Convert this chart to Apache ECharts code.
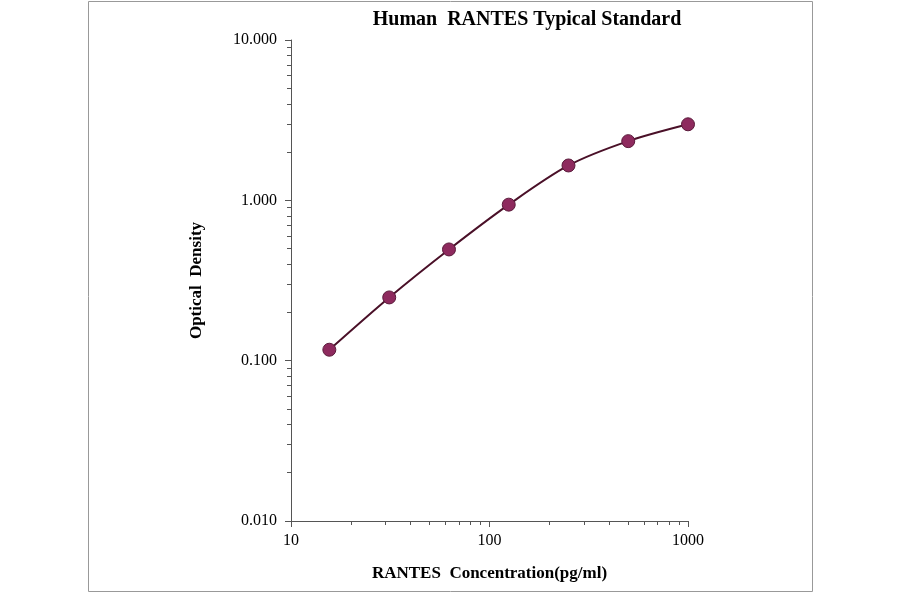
<!DOCTYPE html>
<html><head><meta charset="utf-8">
<script src="https://cdn.jsdelivr.net/npm/echarts@6/dist/echarts.min.js"></script>
<style>html,body{margin:0;padding:0;background:#fff}#c{width:900px;height:594px}</style>
</head><body><div id="c"></div>
<script>
const concentrations = [15.6, 31.25, 62.5, 125, 250, 500, 1000];
const opticalDensity = [0.117, 0.248, 0.494, 0.94, 1.65, 2.34, 2.98];
const title = 'Human  RANTES Typical Standard';
const xName = 'RANTES  Concentration(pg/ml)';
const yName = 'Optical  Density';
const font = '"Liberation Serif", "DejaVu Serif", serif';
const chart = echarts.init(document.getElementById('c'));
chart.setOption({
  animation: false,
  title: { text: title, left: 522, top: 5, textAlign: 'center',
    textStyle: { fontFamily: font, fontSize: 20, fontWeight: 'bold', color: '#000' } },
  graphic: [{ type: 'rect', shape: { x: 88.5, y: 1.5, width: 724, height: 590 },
    style: { fill: 'none', stroke: '#999', lineWidth: 1 } }],
  grid: { left: 291, right: 212, top: 40, bottom: 73 },
  xAxis: { type: 'log', logBase: 10, min: 10, max: 1000,
    name: xName, nameLocation: 'middle', nameGap: 44,
    nameTextStyle: { fontFamily: font, fontSize: 17, fontWeight: 'bold', color: '#000' },
    axisLine: { lineStyle: { color: '#555' } },
    axisTick: { inside: false, length: 6, lineStyle: { color: '#555' } },
    minorTick: { show: true, splitNumber: 9, length: 4, lineStyle: { color: '#555' } },
    axisLabel: { fontFamily: font, fontSize: 16, color: '#000', margin: 12,
      formatter: v => String(Math.round(v)) },
    splitLine: { show: false } },
  yAxis: { type: 'log', logBase: 10, min: 0.01, max: 10,
    name: yName, nameLocation: 'middle', nameGap: 86,
    nameTextStyle: { fontFamily: font, fontSize: 17, fontWeight: 'bold', color: '#000' },
    axisLine: { show: true, lineStyle: { color: '#555' } },
    axisTick: { show: true, length: 6, lineStyle: { color: '#555' } },
    minorTick: { show: true, splitNumber: 9, length: 4, lineStyle: { color: '#555' } },
    axisLabel: { fontFamily: font, fontSize: 16, color: '#000', margin: 14,
      formatter: v => v.toFixed(3) },
    splitLine: { show: false } },
  series: [{ type: 'line', smooth: 0.3,
    data: concentrations.map((c, i) => [c, opticalDensity[i]]),
    symbol: 'circle', symbolSize: 13,
    lineStyle: { color: '#4a1028', width: 2 },
    itemStyle: { color: '#8e2a5e', borderColor: '#5a1a3a', borderWidth: 1 } }]
});
</script></body></html>
